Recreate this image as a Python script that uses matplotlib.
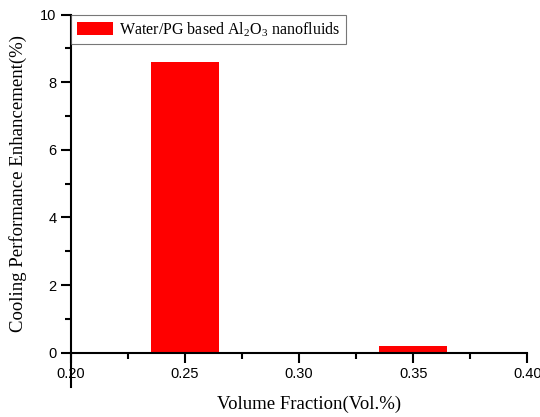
import numpy as np
import matplotlib.pyplot as plt
from matplotlib.ticker import MultipleLocator

plt.rcParams['mathtext.fontset'] = 'custom'
plt.rcParams['mathtext.rm'] = 'Liberation Serif'
plt.rcParams['mathtext.it'] = 'Liberation Serif:italic'

########################### data ####################################
fractions = [0.25, 0.35]
enhancement = [8.6, 0.2]
series_label = r'Water/PG based Al$_{\mathrm{2}}$O$_{\mathrm{3}}$ nanofluids'

fig = plt.figure(figsize=(5.4, 4.17), dpi=100)
ax = fig.add_axes([0.1315, 0.073, 0.845, 0.892])

ax.bar(fractions, enhancement, width=0.03, color='#ff0000', label=series_label)

ax.set_xlim(0.2, 0.4)
ax.set_ylim(-1, 10)
ax.spines['right'].set_visible(False)
ax.spines['top'].set_visible(False)
ax.spines['bottom'].set_position(('data', 0))
ax.spines['left'].set_linewidth(1.5)
ax.spines['bottom'].set_linewidth(1.5)

ax.set_xticks([0.20, 0.25, 0.30, 0.35, 0.40])
ax.set_xticklabels(['0.20', '0.25', '0.30', '0.35', '0.40'])
ax.xaxis.set_minor_locator(MultipleLocator(0.025))
ax.set_yticks([0, 2, 4, 6, 8, 10])
ax.set_yticks([t for t in range(1, 10, 2)], minor=True)
ax.tick_params(which='major', direction='out', length=7, width=1.5,
               labelsize=10.5, labelfontfamily='Liberation Sans')
ax.tick_params(which='minor', direction='out', length=4, width=1.5)

# axis titles placed in figure coords
fig.text(309.5/540, 1-404/417, 'Volume Fraction(Vol.%)', family='Liberation Serif',
         fontsize=13.5, ha='center', va='center')
fig.text(18/540, 1-183/417, 'Cooling Performance Enhancement(%)', family='Liberation Serif',
         fontsize=13.5, ha='center', va='center', rotation=90)

leg = ax.legend(loc='upper left', borderaxespad=0, fancybox=False,
                prop={'family': 'Liberation Serif', 'size': 11.5},
                handlelength=2.25, handleheight=0.9, handletextpad=0.4, borderpad=0.35)
leg.get_frame().set_edgecolor('#555555')
leg.get_frame().set_linewidth(0.8)

fig.savefig('out.png', dpi=100)
